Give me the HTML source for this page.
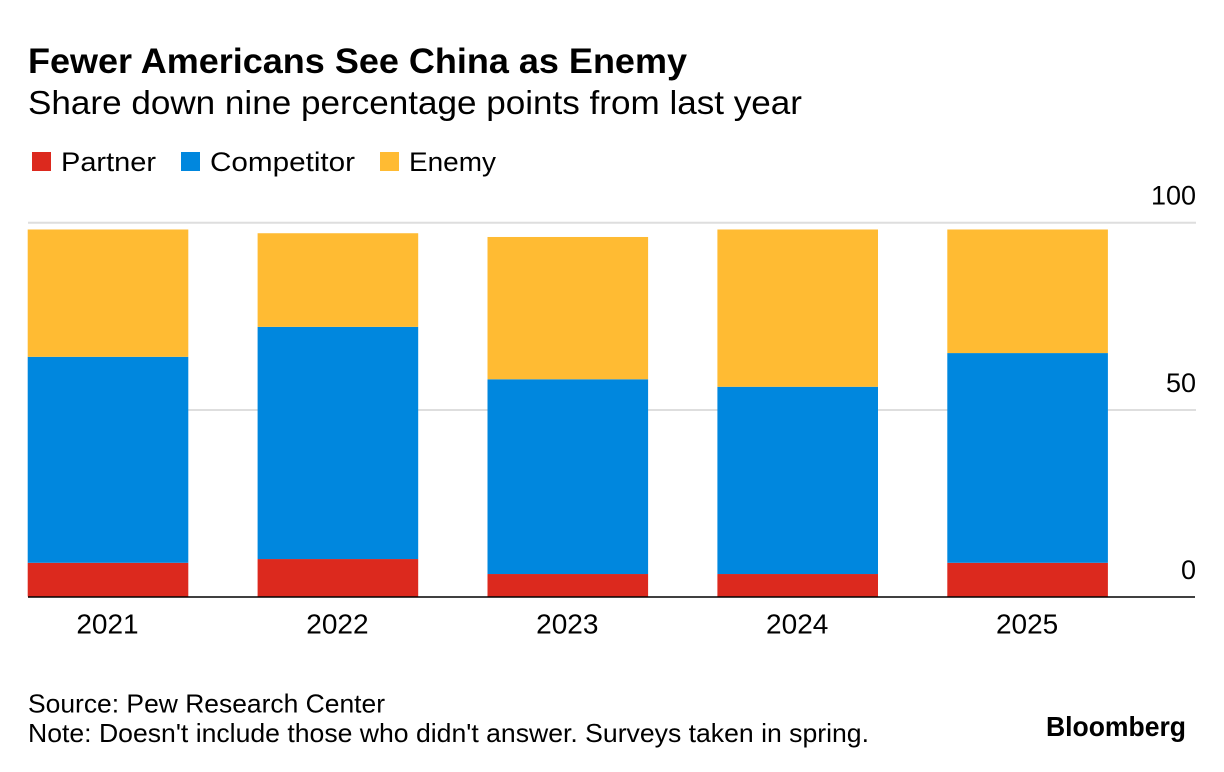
<!DOCTYPE html>
<html lang="en">
<head>
<meta charset="utf-8">
<title>Fewer Americans See China as Enemy</title>
<style>
  html,body{margin:0;padding:0;background:#fff;}
  #chart-root{position:relative;width:1224px;height:772px;overflow:hidden;background:#fff;font-family:"Liberation Sans",sans-serif;color:#000;}
  svg{position:absolute;left:0;top:0;}
  text{font-family:"Liberation Sans",sans-serif;fill:#000;}
</style>
</head>
<body>
<div id="chart-root">
<svg id="svg" width="1224" height="772" viewBox="0 0 1224 772">
  <text x="28" y="73" font-size="35" font-weight="700" textLength="659" lengthAdjust="spacingAndGlyphs">Fewer Americans See China as Enemy</text>
  <text x="28" y="114" font-size="33" textLength="774" lengthAdjust="spacingAndGlyphs">Share down nine percentage points from last year</text>

  <g>
    <rect x="32" y="152" width="19" height="19" fill="#dc291e"/>
    <text x="61" y="171" font-size="27" textLength="95" lengthAdjust="spacingAndGlyphs">Partner</text>
    <rect x="181" y="152" width="19" height="19" fill="#0087de"/>
    <text x="210" y="171" font-size="27" textLength="145" lengthAdjust="spacingAndGlyphs">Competitor</text>
    <rect x="380" y="152" width="19" height="19" fill="#ffbb33"/>
    <text x="409" y="171" font-size="27" textLength="87" lengthAdjust="spacingAndGlyphs">Enemy</text>
  </g>

  <g id="grid"></g>
  <g id="bars"></g>
  <g id="ylabels"></g>
  <g id="xlabels"></g>
  <line x1="28" x2="1195" y1="597" y2="597" stroke="#000" stroke-width="1.5"/>

  <text x="28" y="712.5" font-size="26" textLength="357" lengthAdjust="spacingAndGlyphs">Source: Pew Research Center</text>
  <text x="28" y="742" font-size="26" textLength="841" lengthAdjust="spacingAndGlyphs">Note: Doesn't include those who didn't answer. Surveys taken in spring.</text>
  <text x="1046" y="736" font-size="28" font-weight="700" textLength="140" lengthAdjust="spacingAndGlyphs">Bloomberg</text>
</svg>
</div>
<script>
const years = ["2021", "2022", "2023", "2024", "2025"];
const partner = [9, 10, 6, 6, 9];
const competitor = [55, 62, 52, 50, 56];
const enemy = [34, 25, 38, 42, 33];
const yTicks = [0, 50, 100];

const NS = "http://www.w3.org/2000/svg";
const y0 = 597, pxPerUnit = 3.745, barBaseOffset = 0.5;
const firstBarLeft = 27.7, barStep = 229.9, barWidth = 160.6;
function yScale(v) { return y0 - v * pxPerUnit; }
function xScale(i) { return firstBarLeft + i * barStep; }

const gridG = document.getElementById("grid");
const yLabG = document.getElementById("ylabels");
yTicks.forEach(function (t) {
  if (t !== 0) {
    const l = document.createElementNS(NS, "line");
    l.setAttribute("x1", 28);
    l.setAttribute("x2", 1196);
    l.setAttribute("y1", yScale(t) + 0.3);
    l.setAttribute("y2", yScale(t) + 0.3);
    l.setAttribute("stroke", "#dedede");
    l.setAttribute("stroke-width", "2");
    
    
    gridG.appendChild(l);
  }
  const txt = document.createElementNS(NS, "text");
  txt.setAttribute("x", 1196);
  txt.setAttribute("y", yScale(t) - 18);
  txt.setAttribute("text-anchor", "end");
  txt.setAttribute("font-size", "27");
  txt.textContent = String(t);
  
  
  yLabG.appendChild(txt);
});

const barsG = document.getElementById("bars");
const xLabG = document.getElementById("xlabels");
const seriesList = [
  { values: partner, color: "#dc291e" },
  { values: competitor, color: "#0087de" },
  { values: enemy, color: "#ffbb33" }
];
years.forEach(function (year, i) {
  let base = 0;
  seriesList.forEach(function (s) {
    const v = s.values[i];
    const r = document.createElementNS(NS, "rect");
    r.setAttribute("x", xScale(i));
    r.setAttribute("y", yScale(base + v) - barBaseOffset);
    r.setAttribute("width", barWidth);
    r.setAttribute("height", v * pxPerUnit);
    r.setAttribute("fill", s.color);
    
    
    barsG.appendChild(r);
    base += v;
  });
  const t = document.createElementNS(NS, "text");
  t.setAttribute("x", xScale(i) + barWidth / 2 - 0.5);
  t.setAttribute("y", 633.5);
  t.setAttribute("text-anchor", "middle");
  t.setAttribute("font-size", "28");
  t.textContent = year;
  
  
  xLabG.appendChild(t);
});
</script>
</body>
</html>
